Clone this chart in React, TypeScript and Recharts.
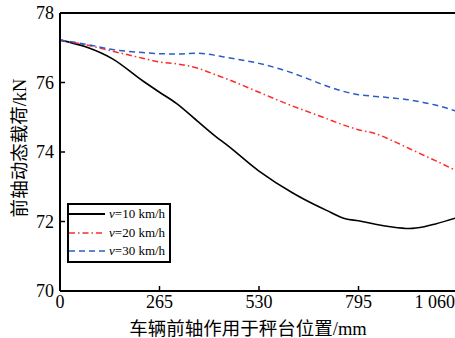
import React from "react";
import { LineChart, Line, XAxis, YAxis, ReferenceLine, Legend } from "recharts";

const positions = [0, 70, 140, 220, 265, 310, 370, 420, 440, 530, 620, 650, 710, 760, 795, 840, 880, 930, 970, 1000, 1060];
const v10 = [77.22, 77.02, 76.68, 76.05, 75.72, 75.4, 74.85, 74.4, 74.24, 73.45, 72.82, 72.64, 72.32, 72.08, 72.02, 71.92, 71.85, 71.8, 71.85, 71.93, 72.12];
const v20 = [77.22, 77.08, 76.9, 76.7, 76.59, 76.54, 76.4, 76.2, 76.12, 75.72, 75.32, 75.2, 74.96, 74.76, 74.64, 74.53, 74.35, 74.1, 73.9, 73.75, 73.44];
const v30 = [77.22, 77.1, 76.95, 76.86, 76.83, 76.82, 76.84, 76.77, 76.73, 76.55, 76.27, 76.15, 75.9, 75.73, 75.65, 75.6, 75.56, 75.5, 75.42, 75.35, 75.16];
const xTicks = [0, 265, 530, 795, 1060];
const yTicks = [70, 72, 74, 76, 78];
const seriesNames = ["10", "20", "30"];

const data = positions.map((p, i) => ({ x: p, a: v10[i], b: v20[i], c: v30[i] }));

const FONT = '"Liberation Serif", "DejaVu Serif", "Noto Sans CJK SC", serif';
const RED = "#ff2a2a";
const BLUE = "#2b5cc8";

const series = [
  { key: "a", color: "#000000", dash: undefined as string | undefined, name: seriesNames[0] },
  { key: "b", color: RED, dash: "6 3 1.5 3", name: seriesNames[1] },
  { key: "c", color: BLUE, dash: "6 4", name: seriesNames[2] },
];

const fmtX = (v: number) => (v === 1060 ? "1 060" : String(v));

const XTick = (props: any) => {
  const { x, y, payload } = props;
  const isLast = payload.value === 1060;
  return (
    <text
      x={isLast ? 455 : x}
      y={y}
      dy="0.71em"
      textAnchor={isLast ? "end" : "middle"}
      fontFamily={FONT}
      fontSize={18}
      fill="#000"
    >
      {fmtX(payload.value)}
    </text>
  );
};

const LegendBox = () => (
  <div
    style={{
      border: "2px solid #000",
      width: 100,
      height: 55.5,
      background: "#fff",
      fontFamily: FONT,
      fontSize: 13,
      color: "#000",
    }}
  >
    {series.map((s) => (
      <div key={s.key} style={{ height: 18.5, display: "flex", alignItems: "center" }}>
        <svg width={36} height={6} style={{ display: "block" }}>
          <line x1={0} y1={3} x2={36} y2={3} stroke={s.color} strokeWidth={s.key === "a" ? 2 : 1.5} strokeDasharray={s.dash} />
        </svg>
        <span style={{ marginLeft: 4, whiteSpace: "nowrap", lineHeight: "18.5px" }}>
          <i>v</i>={s.name} km/h
        </span>
      </div>
    ))}
  </div>
);

export default function App() {
  return (
    <div style={{ position: "absolute", left: 0, top: 0, width: 455, height: 338, overflow: "hidden", background: "#fff" }}>
      <LineChart width={470} height={338} data={data} margin={{ top: 13, right: 12, left: 0, bottom: 0 }}>
        <XAxis
          dataKey="x"
          type="number"
          domain={[0, 1060]}
          ticks={xTicks}
          height={47}
          stroke="#000"
          axisLine={{ stroke: "#000", strokeWidth: 2 }}
          tickLine={{ stroke: "#000", strokeWidth: 1.5 }}
          tickSize={-5}
          tickMargin={9}
          tick={<XTick />}
          interval={0}
          label={{
            content: () => (
              <text x={248} y={329} textAnchor="middle" dominantBaseline="central" fontFamily={FONT} fontSize={18.5} fill="#000">
                车辆前轴作用于秤台位置/mm
              </text>
            ),
          }}
        />
        <YAxis
          type="number"
          domain={[70, 78]}
          ticks={yTicks}
          width={60}
          axisLine={{ stroke: "#000", strokeWidth: 2 }}
          tickLine={{ stroke: "#000", strokeWidth: 1.5 }}
          tickSize={-5}
          tickMargin={11}
          interval={0}
          tick={{ fontFamily: FONT, fontSize: 18, fill: "#000" }}
          label={{
            content: () => (
              <text
                x={20}
                y={148}
                transform="rotate(-90 20 148)"
                textAnchor="middle"
                dominantBaseline="central"
                fontFamily={FONT}
                fontSize={18.5}
                fill="#000"
              >
                前轴动态载荷/kN
              </text>
            ),
          }}
        />
        <ReferenceLine y={78} stroke="#000" strokeWidth={2} />
        {series.map((s) => (
          <Line
            key={s.key}
            dataKey={s.key}
            type="monotone"
            stroke={s.color}
            strokeWidth={s.key === "a" ? 1.6 : 1.5}
            strokeDasharray={s.dash}
            dot={false}
            activeDot={false}
            isAnimationActive={false}
          />
        ))}
        <Legend
          layout="horizontal"
          verticalAlign="middle"
          align="center"
          content={() => <LegendBox />}
          wrapperStyle={{ left: 67, top: 203, width: "auto", height: "auto" }}
        />
      </LineChart>
    </div>
  );
}
